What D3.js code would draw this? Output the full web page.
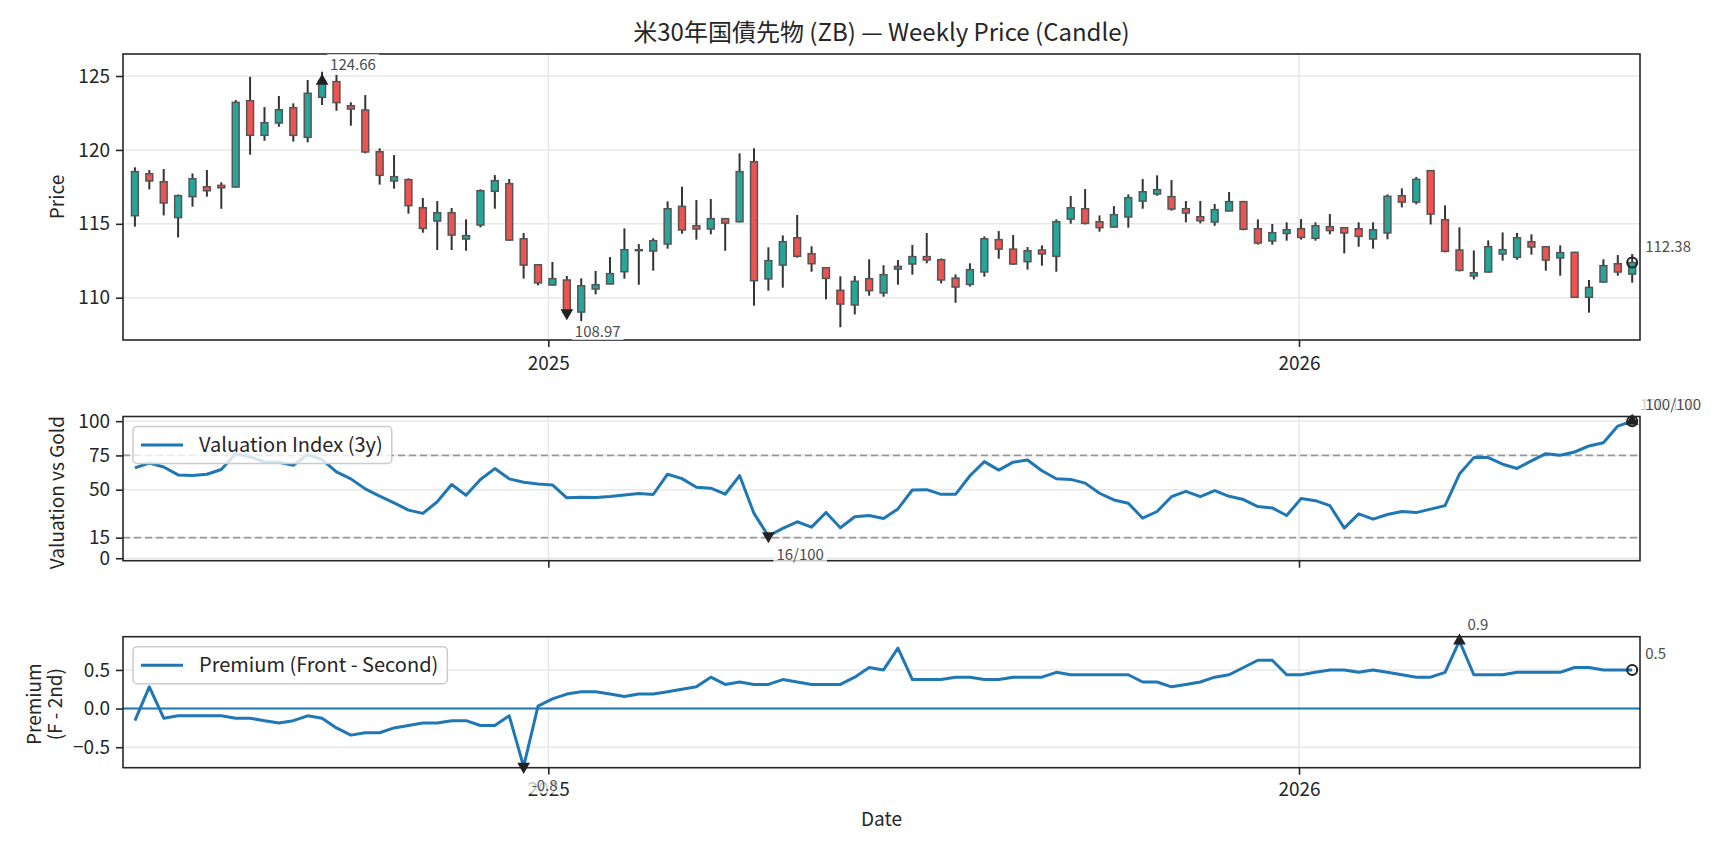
<!DOCTYPE html>
<html><head><meta charset="utf-8">
<script src="https://cdn.jsdelivr.net/npm/d3@7"></script>
<style>
body{margin:0;background:#fff;}
text{font-family:"Noto Sans CJK JP","Noto Sans",sans-serif;}
</style></head>
<body><svg id="chart" width="1728" height="849"></svg>
<script>
// ---------------- data ----------------
const titleText = "米30年国債先物 (ZB) — Weekly Price (Candle)";
const firstWeek = "2024-06-14";
const lastWeek = "2026-06-12";
const xTickLabels = ["2025", "2026"];
const priceTicks = [110, 115, 120, 125];
const valTicks = [0, 15, 50, 75, 100];
const valRefLines = [75, 15];
const premTicks = [-0.5, 0.0, 0.5];

const open = [115.55,118.39,117.85,115.42,116.84,117.51,117.60,117.49,123.33,120.99,121.82,122.86,120.85,123.56,124.62,122.99,122.70,119.88,117.90,117.99,116.09,115.19,115.75,113.97,114.92,117.20,117.72,113.99,112.23,110.86,111.20,109.03,110.59,110.93,111.76,113.23,113.16,113.63,116.18,114.87,114.65,115.35,115.14,119.20,111.27,112.21,114.06,112.98,112.03,110.50,109.51,111.29,110.32,111.94,112.28,112.78,112.57,111.33,110.90,111.74,113.93,113.29,112.44,113.23,112.80,115.32,116.02,115.14,114.78,115.46,116.54,117.02,116.84,116.02,115.48,115.12,115.87,116.50,114.67,113.84,114.35,114.67,114.02,114.81,114.74,114.67,113.97,114.38,116.90,116.47,118.60,115.28,113.23,111.47,111.74,112.96,112.73,113.79,113.45,112.69,113.07,110.03,111.06,112.30,111.60];
const high = [118.82,118.64,118.71,116.99,118.41,118.64,117.81,123.38,124.95,122.90,123.65,123.15,124.73,125.29,125.07,123.22,123.71,120.11,119.65,118.08,116.75,116.54,116.07,115.30,117.33,118.30,118.03,114.38,112.23,112.42,111.47,111.31,111.81,112.75,114.69,113.63,114.02,116.52,117.51,116.61,116.68,115.40,119.77,120.11,113.41,114.22,115.60,113.48,112.03,111.45,111.47,112.60,112.20,112.55,113.57,114.38,112.66,111.58,112.33,114.15,114.51,114.24,113.43,113.54,115.30,116.88,117.35,115.57,116.20,116.99,118.03,118.28,117.96,116.54,116.54,116.34,117.15,116.55,115.30,114.99,115.10,115.32,115.10,115.66,114.78,115.10,115.10,116.99,117.40,118.17,118.64,116.25,114.76,113.20,113.88,114.42,114.38,114.29,113.50,113.54,113.10,111.20,112.60,112.89,112.96];
const low = [114.81,117.33,115.57,114.08,116.16,116.84,116.02,117.45,119.68,120.62,121.57,120.56,120.51,123.04,122.65,121.64,119.77,117.65,117.38,115.69,114.40,113.23,113.23,113.18,114.76,116.02,113.86,111.29,110.84,110.84,108.80,108.38,110.23,110.90,111.29,110.88,111.83,113.32,114.33,113.93,114.29,113.18,115.10,109.46,110.48,110.68,112.71,111.76,109.89,108.00,108.87,110.14,110.07,110.88,111.56,112.33,110.97,109.66,110.75,111.42,112.64,112.23,111.90,112.17,111.76,115.01,114.96,114.47,114.75,114.74,116.02,116.90,115.89,115.10,115.03,114.87,115.85,114.56,113.59,113.59,113.86,113.93,113.86,114.29,113.00,113.45,113.32,113.95,116.11,116.32,114.96,113.07,111.78,111.24,111.70,112.51,112.57,112.91,111.83,111.49,110.00,108.99,111.03,111.49,111.02];
const close = [118.53,117.90,116.41,116.90,118.05,117.24,117.44,123.22,120.99,121.84,122.72,120.99,123.83,124.66,123.20,122.77,119.86,118.28,118.19,116.23,114.69,115.75,114.24,114.20,117.24,117.92,113.90,112.21,111.00,111.29,108.97,110.81,110.88,111.63,113.25,113.25,113.86,116.02,114.58,114.65,115.35,115.05,118.53,111.15,112.51,113.79,112.80,112.30,111.31,109.57,111.11,110.48,111.56,112.12,112.78,112.55,111.20,110.72,111.90,113.99,113.29,112.28,113.18,112.96,115.14,116.09,115.03,114.74,115.62,116.77,117.17,117.31,116.00,115.73,115.21,115.96,116.50,114.63,113.70,114.40,114.60,114.08,114.87,114.54,114.38,114.15,114.60,116.86,116.47,118.01,115.66,113.14,111.85,111.69,113.45,113.25,114.06,113.43,112.55,113.05,110.03,110.70,112.17,111.74,112.38];
const valuation = [65.9,69.5,66.6,60.8,60.3,61.3,64.7,76.3,73.9,70.2,70.0,67.8,75.6,71.9,63.0,57.9,50.6,45.3,40.4,35.1,32.7,41.2,53.8,46.0,57.4,65.4,57.9,55.4,54.2,53.5,44.1,44.5,44.3,45.0,46.2,47.2,46.5,61.3,58.1,51.8,51.1,46.7,60.3,32.7,16.2,21.8,26.6,22.7,33.4,22.2,30.3,31.2,29.0,36.0,49.8,50.0,46.6,46.6,60.2,70.5,64.3,70.1,71.7,63.8,58.0,57.5,54.8,47.4,42.5,40.1,29.2,34.1,44.9,48.8,44.9,49.3,45.2,42.8,37.7,36.7,31.2,43.5,42.0,38.4,22.0,32.4,28.5,31.9,34.1,33.3,35.8,38.4,61.4,73.4,73.4,68.6,65.5,71.0,76.3,75.1,77.5,81.9,84.3,96.4,100];
const premium = [-0.15625,0.28125,-0.125,-0.09375,-0.09375,-0.09375,-0.09375,-0.125,-0.125,-0.15625,-0.1875,-0.15625,-0.09375,-0.125,-0.25,-0.34375,-0.3125,-0.3125,-0.25,-0.21875,-0.1875,-0.1875,-0.15625,-0.15625,-0.21875,-0.21875,-0.09375,-0.75,0.03125,0.125,0.1875,0.21875,0.21875,0.1875,0.15625,0.1875,0.1875,0.21875,0.25,0.28125,0.40625,0.3125,0.34375,0.3125,0.3125,0.375,0.34375,0.3125,0.3125,0.3125,0.40625,0.53125,0.5,0.78125,0.375,0.375,0.375,0.40625,0.40625,0.375,0.375,0.40625,0.40625,0.40625,0.46875,0.4375,0.4375,0.4375,0.4375,0.4375,0.34375,0.34375,0.28125,0.3125,0.34375,0.40625,0.4375,0.53125,0.625,0.625,0.4375,0.4375,0.46875,0.5,0.5,0.46875,0.5,0.46875,0.4375,0.40625,0.40625,0.46875,0.875,0.4375,0.4375,0.4375,0.46875,0.46875,0.46875,0.46875,0.53125,0.53125,0.5,0.5,0.5];

// ---------------- layout ----------------
const FONT_TICK = 19, FONT_LABEL = 19, FONT_TITLE = 24, FONT_ANN = 15, FONT_LEG = 20;
const L = 123, R = 1640;
const P1 = {top: 54, bottom: 340};
const P2 = {top: 416.5, bottom: 560.7};
const P3 = {top: 636.7, bottom: 767.7};
const TEAL = "#26a69a", RED = "#ef5350", BLUE = "#1f77b4", SPINE = "#262626", GRID = "#e8e8e8", ANN = "#4d4d4d";

const svg = d3.select("#chart");
const dates = d3.utcDay.range(d3.utcParse("%Y-%m-%d")(firstWeek), d3.utcDay.offset(d3.utcParse("%Y-%m-%d")(lastWeek), 1), 7);
const x = d3.scaleUtc()
  .domain([new Date(Date.UTC(2024, 5, 8, 5)), new Date(Date.UTC(2026, 5, 15, 19))])
  .range([L, R]);
const xTickDates = xTickLabels.map(s => d3.utcParse("%Y")(s));

const yP = d3.scaleLinear().domain([107.14, 126.49]).range([P1.bottom, P1.top]);
const yV = d3.scaleLinear().domain([-1.8, 103.4]).range([P2.bottom, P2.top]);
const yR = d3.scaleLinear().domain([-0.765, 0.93]).range([P3.bottom, P3.top]);

function clipFor(id, P) {
  svg.append("clipPath").attr("id", id).append("rect")
    .attr("x", L).attr("y", P.top).attr("width", R - L).attr("height", P.bottom - P.top);
}
clipFor("c1", P1); clipFor("c2", P2); clipFor("c3", P3);

function grid(P, y, yticks) {
  const g = svg.append("g");
  g.selectAll(".gy").data(yticks).join("line")
    .attr("x1", L).attr("x2", R).attr("y1", d => y(d)).attr("y2", d => y(d))
    .attr("stroke", GRID).attr("stroke-width", 1.5);
  g.selectAll(".gx").data(xTickDates).join("line")
    .attr("x1", d => x(d)).attr("x2", d => x(d)).attr("y1", P.top).attr("y2", P.bottom)
    .attr("stroke", GRID).attr("stroke-width", 1.5);
}

function axes(P, y, yticks, fmt, showX, xPad) {
  const gy = svg.append("g").attr("transform", `translate(${L},0)`)
    .call(d3.axisLeft(y).tickValues(yticks).tickFormat(fmt).tickSize(7).tickPadding(6));
  gy.select(".domain").remove();
  gy.selectAll("line").attr("stroke", SPINE).attr("stroke-width", 1.6);
  gy.selectAll("text").attr("font-size", FONT_TICK).attr("fill", "#262626")
    .style("font-family", '"Noto Sans CJK JP",sans-serif');
  const gx = svg.append("g").attr("transform", `translate(0,${P.bottom})`)
    .call(d3.axisBottom(x).tickValues(xTickDates).tickFormat((d, i) => showX ? xTickLabels[i] : "").tickSize(7).tickPadding(xPad));
  gx.select(".domain").remove();
  gx.selectAll("line").attr("stroke", SPINE).attr("stroke-width", 1.6);
  gx.selectAll("text").attr("font-size", FONT_TICK).attr("fill", "#262626")
    .style("font-family", '"Noto Sans CJK JP",sans-serif');
  svg.append("rect").attr("x", L).attr("y", P.top).attr("width", R - L).attr("height", P.bottom - P.top)
    .attr("fill", "none").attr("stroke", SPINE).attr("stroke-width", 1.6);
}

function annot(px, py, label, kind) {
  // kind: "max" (above), "min" (below), "last" (above, right)
  const dx = kind === "last" ? 13 : 8;
  const baseY = kind === "min" ? py + 24 : py - 11;
  const t = svg.append("text").attr("x", px + dx).attr("y", baseY)
    .attr("font-size", FONT_ANN).attr("fill", ANN).text(label);
  const bb = t.node().getBBox();
  svg.insert("rect", () => t.node())
    .attr("x", bb.x - 3).attr("y", bb.y + 1).attr("width", bb.width + 6).attr("height", bb.height - 2)
    .attr("fill", "#fff").attr("fill-opacity", 0.75);
}
function marker(px, py, type) {
  if (type === "o") {
    svg.append("circle").attr("cx", px).attr("cy", py).attr("r", 5)
      .attr("fill", "none").attr("stroke", "#222").attr("stroke-width", 2);
  } else {
    svg.append("path").attr("d", d3.symbol(d3.symbolTriangle, 70)())
      .attr("transform", `translate(${px},${py}) rotate(${type === "v" ? 180 : 0})`)
      .attr("fill", "#222");
  }
}

// ---------------- panel 1: candles ----------------
grid(P1, yP, priceTicks);
const candles = dates.map((d, i) => ({d, o: open[i], h: high[i], l: low[i], c: close[i]}));
const cg = svg.append("g").attr("clip-path", "url(#c1)");
const bodyW = x(d3.utcHour.offset(dates[0], 80)) - x(dates[0]);
cg.selectAll(".wick").data(candles).join("line")
  .attr("x1", d => x(d.d)).attr("x2", d => x(d.d))
  .attr("y1", d => yP(d.h)).attr("y2", d => yP(d.l))
  .attr("stroke", "#333").attr("stroke-width", 2);
cg.selectAll(".body").data(candles).join("rect")
  .attr("x", d => x(d.d) - bodyW / 2).attr("width", bodyW)
  .attr("y", d => yP(Math.max(d.o, d.c)))
  .attr("height", d => Math.max(1, Math.abs(yP(d.o) - yP(d.c))))
  .attr("fill", d => d.c >= d.o ? TEAL : RED)
  .attr("stroke", "#555").attr("stroke-width", 1.5);
axes(P1, yP, priceTicks, d3.format("d"), true, 10);

// ---------------- panel 2: valuation ----------------
grid(P2, yV, valTicks);
svg.append("g").selectAll("line").data(valRefLines).join("line")
  .attr("x1", L).attr("x2", R).attr("y1", d => yV(d)).attr("y2", d => yV(d))
  .attr("stroke", "#999").attr("stroke-width", 1.8).attr("stroke-dasharray", "7,4");
svg.append("path").datum(valuation).attr("clip-path", "url(#c2)")
  .attr("d", d3.line().x((d, i) => x(dates[i])).y(d => yV(d)))
  .attr("fill", "none").attr("stroke", BLUE).attr("stroke-width", 3).attr("stroke-linejoin", "round");
axes(P2, yV, valTicks, d3.format("d"), false, 6);

// ---------------- panel 3: premium ----------------
grid(P3, yR, premTicks);
svg.append("line").attr("x1", L).attr("x2", R).attr("y1", yR(0)).attr("y2", yR(0))
  .attr("stroke", BLUE).attr("stroke-width", 2);
svg.append("path").datum(premium).attr("clip-path", "url(#c3)")
  .attr("d", d3.line().x((d, i) => x(dates[i])).y(d => yR(d)))
  .attr("fill", "none").attr("stroke", BLUE).attr("stroke-width", 3).attr("stroke-linejoin", "round");
axes(P3, yR, premTicks, d3.format(".1f"), true, 8);

// ---------------- legends ----------------
function legend(P, label) {
  const g = svg.append("g");
  const bx = L + 10, by = P.top + 10, h = 37;
  const rect = g.append("rect").attr("x", bx).attr("y", by).attr("height", h).attr("rx", 4)
    .attr("fill", "#fff").attr("fill-opacity", 0.8).attr("stroke", "#cccccc").attr("stroke-width", 1.5);
  g.append("line").attr("x1", bx + 8).attr("x2", bx + 50).attr("y1", by + h / 2).attr("y2", by + h / 2)
    .attr("stroke", BLUE).attr("stroke-width", 3);
  const t = g.append("text").attr("x", bx + 66).attr("y", by + h / 2).attr("dy", "0.35em")
    .attr("font-size", FONT_LEG).attr("fill", "#262626").text(label);
  rect.attr("width", 66 + t.node().getComputedTextLength() + 9);
}
legend(P2, "Valuation Index (3y)");
legend(P3, "Premium (Front - Second)");

// ---------------- annotations ----------------
const n = dates.length;
const iMaxC = d3.maxIndex(close), iMinC = d3.minIndex(close);
marker(x(dates[iMaxC]), yP(close[iMaxC]), "^");
annot(x(dates[iMaxC]), yP(close[iMaxC]), close[iMaxC].toFixed(2), "max");
marker(x(dates[iMinC]), yP(close[iMinC]), "v");
annot(x(dates[iMinC]), yP(close[iMinC]), close[iMinC].toFixed(2), "min");
marker(x(dates[n - 1]), yP(close[n - 1]), "o");
annot(x(dates[n - 1]), yP(close[n - 1]), close[n - 1].toFixed(2), "last");

const iMaxV = d3.maxIndex(valuation), iMinV = d3.minIndex(valuation);
marker(x(dates[iMaxV]), yV(valuation[iMaxV]), "^");
annot(x(dates[iMaxV]), yV(valuation[iMaxV]), `${Math.round(valuation[iMaxV])}/100`, "max");
marker(x(dates[iMinV]), yV(valuation[iMinV]), "v");
annot(x(dates[iMinV]), yV(valuation[iMinV]), `${Math.round(valuation[iMinV])}/100`, "min");
marker(x(dates[n - 1]), yV(valuation[n - 1]), "o");
annot(x(dates[n - 1]), yV(valuation[n - 1]), `${Math.round(valuation[n - 1])}/100`, "last");

const iMaxR = d3.maxIndex(premium), iMinR = d3.minIndex(premium);
marker(x(dates[iMaxR]), yR(premium[iMaxR]), "^");
annot(x(dates[iMaxR]), yR(premium[iMaxR]), premium[iMaxR].toFixed(1), "max");
marker(x(dates[iMinR]), yR(premium[iMinR]), "v");
annot(x(dates[iMinR]), yR(premium[iMinR]), premium[iMinR].toFixed(1), "min");
marker(x(dates[n - 1]), yR(premium[n - 1]), "o");
annot(x(dates[n - 1]), yR(premium[n - 1]), premium[n - 1].toFixed(1), "last");

// ---------------- titles & labels ----------------
svg.append("text").attr("x", (L + R) / 2).attr("y", 41).attr("text-anchor", "middle")
  .attr("font-size", FONT_TITLE).attr("fill", "#262626").text(titleText);
function ylabel(lines, cx, cy) {
  const t = svg.append("text").attr("transform", `translate(${cx},${cy}) rotate(-90)`)
    .attr("text-anchor", "middle").attr("font-size", FONT_LABEL).attr("fill", "#262626");
  lines.forEach((s, i) => t.append("tspan").attr("x", 0)
    .attr("dy", i === 0 ? `${0.35 - (lines.length - 1) * 0.55}em` : "1.1em").text(s));
}
ylabel(["Price"], 57, (P1.top + P1.bottom) / 2);
ylabel(["Valuation vs Gold"], 57, (P2.top + P2.bottom) / 2 + 4);
ylabel(["Premium", "(F - 2nd)"], 45, (P3.top + P3.bottom) / 2 + 2);
svg.append("text").attr("x", (L + R) / 2).attr("y", 826).attr("text-anchor", "middle")
  .attr("font-size", FONT_LABEL).attr("fill", "#262626").text("Date");
</script></body></html>
